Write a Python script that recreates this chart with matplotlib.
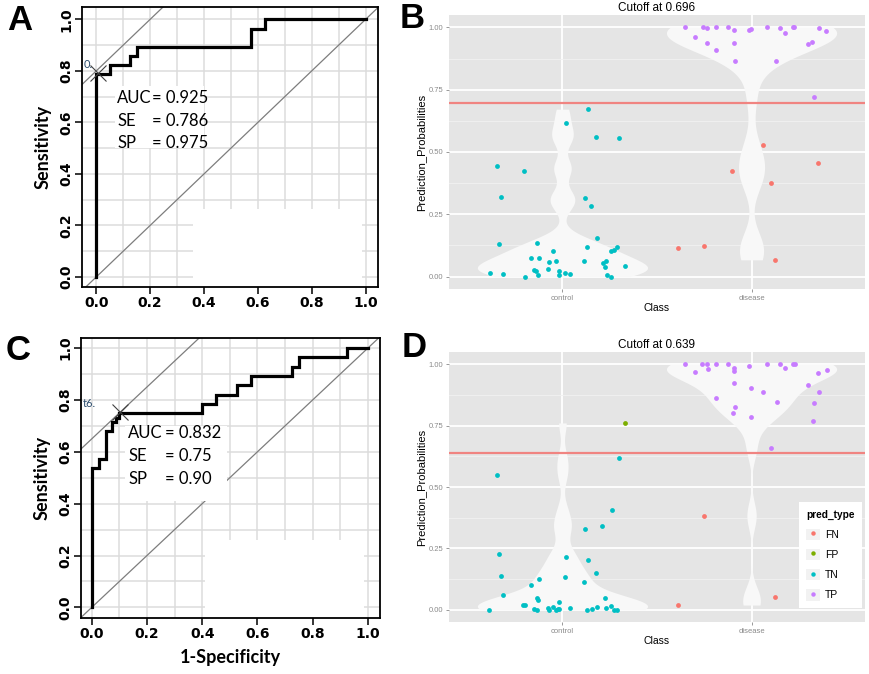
import numpy as np
import matplotlib
matplotlib.use("Agg")
import matplotlib.pyplot as plt
from matplotlib.lines import Line2D
from matplotlib.patches import Patch, Rectangle
from matplotlib.legend_handler import HandlerTuple

# ---------------- data ----------------
# ROC curves (x = 1-Specificity, y = Sensitivity)
A_fpr = [0, 0, 0.05, 0.05, 0.125, 0.125, 0.15, 0.15, 0.575, 0.575, 0.625, 0.625, 1.0]
A_tpr = [0, 0.786, 0.786, 0.821, 0.821, 0.857, 0.857, 0.893, 0.893, 0.964, 0.964, 1.0, 1.0]
C_fpr = [0, 0, 0.025, 0.025, 0.05, 0.05, 0.075, 0.075, 0.0875, 0.0875, 0.1, 0.1, 0.4, 0.4,
         0.45, 0.45, 0.525, 0.525, 0.575, 0.575, 0.725, 0.725, 0.75, 0.75, 0.925, 0.925, 1.0]
C_tpr = [0, 0.536, 0.536, 0.571, 0.571, 0.679, 0.679, 0.714, 0.714, 0.732, 0.732, 0.75, 0.75, 0.786,
         0.786, 0.821, 0.821, 0.857, 0.857, 0.893, 0.893, 0.929, 0.929, 0.964, 0.964, 1.0, 1.0]
roc_auc = [0.925, 0.832]
roc_se = ["0.786", "0.75"]
roc_sp = ["0.975", "0.90"]
best_fpr = [0.005, 0.1025]
best_tpr = [0.79, 0.752]
tangent_intercept = [0.80, 0.65]

# Prediction probability panels (jittered x position, probability)
B_TN_x = [0.653, 0.677, 0.663, 0.617, 0.684, 0.794, 0.804, 0.832, 0.864, 0.875, 0.85, 0.86, 0.869,
          0.928, 0.924, 0.949, 0.966, 0.98, 0.98, 1.012, 1.041, 1.021, 1.134, 1.178, 1.298, 1.12,
          1.152, 1.185, 1.129, 1.115, 1.212, 1.224, 1.229, 1.235, 1.256, 1.259, 1.27, 1.287, 1.33]
B_TN_y = [0.444, 0.319, 0.129, 0.013, 0.011, 0.425, 0.0, 0.073, 0.133, 0.073, 0.027, 0.023, 0.005,
          0.057, 0.032, 0.101, 0.061, 0.024, 0.008, 0.013, 0.011, 0.617, 0.672, 0.56, 0.557, 0.315,
          0.284, 0.155, 0.117, 0.061, 0.053, 0.037, 0.064, 0.008, 0.0, 0.103, 0.107, 0.12, 0.041]
B_TP_x = [1.649, 1.70, 1.743, 1.764, 1.767, 1.813, 1.813, 1.875, 1.905, 1.909, 1.91, 1.986, 1.996,
          2.081, 2.152, 2.175, 2.131, 2.219, 2.226, 2.296, 2.319, 2.358, 2.395, 2.328]
B_TP_y = [1.0, 0.963, 1.0, 0.997, 0.936, 1.0, 0.908, 1.0, 0.989, 0.937, 0.864, 0.989, 0.993,
          1.0, 0.997, 0.977, 0.864, 1.0, 1.0, 0.933, 0.94, 0.999, 0.987, 0.72]
B_FN_x = [1.61, 1.748, 1.899, 2.058, 2.102, 2.122, 2.349]
B_FN_y = [0.116, 0.123, 0.424, 0.528, 0.376, 0.067, 0.457]
B_FP_x = []
B_FP_y = []

D_TN_x = [0.613, 0.654, 0.664, 0.677, 0.684, 0.793, 0.804, 0.832, 0.875, 0.85, 0.864, 0.864, 0.869,
          0.922, 0.928, 0.949, 0.965, 0.977, 0.98, 0.982, 1.012, 1.021, 1.041, 1.117, 1.115, 1.134,
          1.129, 1.154, 1.178, 1.184, 1.21, 1.224, 1.231, 1.256, 1.26, 1.272, 1.29, 1.299]
D_TN_y = [0.0, 0.549, 0.226, 0.136, 0.06, 0.018, 0.018, 0.101, 0.126, 0.001, 0.0, 0.048, 0.039,
          0.008, 0.0, 0.012, 0.0, 0.005, 0.033, 0.005, 0.132, 0.215, 0.007, 0.33, 0.113, 0.201,
          0.0, 0.003, 0.151, 0.012, 0.341, 0.046, 0.008, 0.015, 0.406, 0.0, 0.0, 0.617]
D_FP_x = [1.33]
D_FP_y = [0.761]
D_TP_x = [1.65, 1.70, 1.74, 1.764, 1.77, 1.814, 1.814, 1.875, 1.906, 1.906, 1.909, 1.911, 1.90,
          1.989, 1.996, 1.998, 2.062, 2.083, 2.152, 2.177, 2.132, 2.221, 2.228, 2.104, 2.299,
          2.352, 2.359, 2.33, 2.323, 2.397]
D_TP_y = [1.0, 0.97, 1.0, 1.0, 0.981, 1.0, 0.861, 1.0, 0.986, 0.973, 0.925, 0.827, 0.80,
          0.992, 0.904, 0.787, 0.886, 1.0, 1.0, 0.984, 0.846, 1.0, 1.0, 0.66, 0.917,
          0.963, 0.886, 0.841, 0.77, 0.977]
D_FN_x = [1.611, 1.749, 2.124]
D_FN_y = [0.019, 0.383, 0.053]

cutoffs = [0.696, 0.639]
classes = ["control", "disease"]
pred_types = ["FN", "FP", "TN", "TP"]
type_colors = {"FN": "#F8766D", "FP": "#7CAE00", "TN": "#00BFC4", "TP": "#C77CFF"}

# ---------------- figure ----------------
W, H = 870, 674
fig = plt.figure(figsize=(W / 100, H / 100), dpi=100)


def px_axes(l, t, r, b):
    return fig.add_axes([l / W, 1 - b / H, (r - l) / W, (b - t) / H])


def roc_panel(ax, fpr, tpr, xlim, ylim, k, txt_x, eq_x, txt_y, boxes, thr_txt, xlabel):
    ax.set_xlim(*xlim)
    ax.set_ylim(*ylim)
    ax.set_axisbelow(True)
    ticks = np.round(np.arange(0, 1.01, 0.2), 1)
    ax.set_xticks(ticks)
    ax.set_yticks(ticks)
    ax.set_xticks(np.arange(0, 1.01, 0.1), minor=True)
    ax.set_yticks(np.arange(0, 1.01, 0.1), minor=True)
    ax.grid(which="both", color="#DCDCDC", lw=1.1)
    ax.tick_params(which="minor", length=0)
    ax.tick_params(which="major", direction="out", length=5, width=1.1, labelsize=10)
    ax.tick_params(axis="x", pad=1.5)
    ax.tick_params(axis="y", pad=1.5)
    ax.set_xticklabels([f"{t:.1f}" for t in ticks], fontweight="bold", family="DejaVu Sans")
    ax.set_yticklabels([f"{t:.1f}" for t in ticks], fontweight="bold", family="DejaVu Sans",
                       rotation=90, va="center")
    for s in ax.spines.values():
        s.set_linewidth(1.3)
    for (x0, y0, x1, y1) in boxes:
        ax.add_patch(Rectangle((x0, y0), x1 - x0, y1 - y0, facecolor="white", edgecolor="none", zorder=1))
    d = np.array([-0.2, 1.2])
    ax.plot(d, d, color="#7D7D7D", lw=0.9, zorder=0.8)
    ax.plot(d, d + tangent_intercept[k], color="#7D7D7D", lw=0.9, zorder=2)
    ax.plot(fpr, tpr, color="black", lw=2.3, zorder=3, solid_joinstyle="miter")
    ax.plot([best_fpr[k]], [best_tpr[k]], marker="x", ms=11, mew=0.8, color="#404040", zorder=4, ls="")
    ax.text(xlim[0] + 0.005, best_tpr[k] + 0.035, thr_txt, fontsize=8, color="#2F4F6F",
            family="Lato", ha="left", va="center", clip_on=True, zorder=4)
    lab = ["AUC", "SE", "SP"]
    val = [f"= {roc_auc[k]:.3f}", f"= {roc_se[k]}", f"= {roc_sp[k]}"]
    for i in range(3):
        ax.text(txt_x, txt_y[i], lab[i], fontsize=12, family="Lato", va="center", ha="left", zorder=5)
        ax.text(eq_x, txt_y[i], val[i], fontsize=12, family="Lato", va="center", ha="left", zorder=5)
    ax.set_ylabel("Sensitivity", fontsize=13, fontweight="bold", family="Lato", labelpad=5)
    if xlabel:
        ax.set_xlabel("1-Specificity", fontsize=13, fontweight="bold", family="Lato", labelpad=6)


def nrd0(x):
    x = np.asarray(x, float)
    sd = np.std(x, ddof=1)
    q75, q25 = np.percentile(x, [75, 25])
    lo = min(sd, (q75 - q25) / 1.34)
    if lo <= 0:
        lo = sd
    return 0.9 * lo * len(x) ** (-0.2)


def kde(x, grid):
    x = np.asarray(x, float)
    bw = nrd0(x)
    z = (grid[:, None] - x[None, :]) / bw
    return np.exp(-0.5 * z ** 2).sum(axis=1) / (len(x) * bw * np.sqrt(2 * np.pi))


def gg_panel(ax, pts, cutoff, legend):
    ax.set_facecolor("#E5E5E5")
    for s in ax.spines.values():
        s.set_visible(False)
    ax.set_xlim(0.4, 2.6)
    ax.set_ylim(-0.05, 1.05)
    yt = [0, 0.25, 0.5, 0.75, 1.0]
    ax.set_yticks(yt)
    ax.set_yticklabels([f"{v:.2f}" for v in yt])
    ax.set_yticks([0.125, 0.375, 0.625, 0.875], minor=True)
    ax.set_xticks([1, 2])
    ax.set_xticklabels(classes)
    ax.set_axisbelow(True)
    ax.grid(which="major", color="white", lw=1.3)
    ax.grid(which="minor", axis="y", color="#F2F2F2", lw=0.6)
    ax.tick_params(which="minor", length=0)
    ax.tick_params(which="major", length=2.5, width=0.6, color="#888888", labelcolor="#8A8A8A",
                   labelsize=5.5, pad=1.5)
    for lab in ax.get_xticklabels() + ax.get_yticklabels():
        lab.set_family("Liberation Sans")
    # violins (trimmed kernel density, each scaled to the maximum width)
    groups = [pts["TN"][1] + pts["FP"][1], pts["TP"][1] + pts["FN"][1]]
    for pos, g in zip([1, 2], groups):
        grid = np.linspace(min(g), max(g), 512)
        d = kde(g, grid)
        hw = 0.45 * d / d.max()
        ax.fill_betweenx(grid, pos - hw, pos + hw, color="#F8F8F8", lw=0, zorder=2)
    ax.axhline(cutoff, color="#F08481", lw=1.6, zorder=3)
    for t in pred_types:
        xs, ys = pts[t]
        if len(xs):
            ax.scatter(xs, ys, s=12, color=type_colors[t], lw=0, zorder=4)
    ax.set_title(f"Cutoff at {cutoff}", fontsize=8.5, family="Liberation Sans", pad=3)
    ax.set_ylabel("Prediction_Probabilities", fontsize=8, family="Liberation Sans", labelpad=2)
    ax.set_xlabel("Class", fontsize=7.5, family="Liberation Sans", labelpad=1)
    if legend:
        handles = [(Patch(facecolor="#F2F2F2", edgecolor="none"),
                    Line2D([], [], marker="o", ls="", ms=3.2, color=type_colors[t], mew=0))
                   for t in pred_types]
        leg = ax.legend(handles, pred_types, handler_map={tuple: HandlerTuple(ndivide=1, pad=0)},
                        title="pred_type", loc="lower right", bbox_to_anchor=(0.993, 0.052),
                        borderaxespad=0, frameon=True, facecolor="white", edgecolor="none",
                        framealpha=1, fancybox=False, prop={"family": "Liberation Sans", "size": 7.5},
                        title_fontproperties={"family": "Liberation Sans", "weight": "bold", "size": 7.3},
                        handlelength=1.3, handleheight=1.3, labelspacing=0.85, borderpad=0.7,
                        handletextpad=0.5, alignment="left")
        leg.set_zorder(6)


# Panel A
axA = px_axes(82, 7, 378, 287)
roc_panel(axA, A_fpr, A_tpr, (-0.053, 1.046), (-0.039, 1.048), 0,
          0.078, 0.207, [0.694, 0.605, 0.519],
          [(0.36, -0.039, 0.985, 0.265), (0.07, 0.50, 0.40, 0.74)], "0.", False)

# Panel C
axC = px_axes(81, 338, 380, 618)
roc_panel(axC, C_fpr, C_tpr, (-0.039, 1.044), (-0.041, 1.039), 1,
          0.132, 0.266, [0.673, 0.584, 0.494],
          [(0.41, -0.041, 0.985, 0.26), (0.12, 0.41, 0.49, 0.70)], "t6.", True)

# Panel B
axB = px_axes(449, 15, 865, 289)
gg_panel(axB, {"TN": (B_TN_x, B_TN_y), "FP": (B_FP_x, B_FP_y), "TP": (B_TP_x, B_TP_y),
               "FN": (B_FN_x, B_FN_y)}, cutoffs[0], False)

# Panel D
axD = px_axes(449, 352, 865, 622)
gg_panel(axD, {"TN": (D_TN_x, D_TN_y), "FP": (D_FP_x, D_FP_y), "TP": (D_TP_x, D_TP_y),
               "FN": (D_FN_x, D_FN_y)}, cutoffs[1], True)

# Panel letters
for letter, (x, y) in {"A": (20, 21), "B": (412, 19), "C": (18, 350), "D": (414, 348)}.items():
    fig.text(x / W, 1 - y / H, letter, fontsize=25, fontweight="bold", family="Liberation Sans",
             ha="center", va="center")

fig.savefig("out.png", dpi=100)
